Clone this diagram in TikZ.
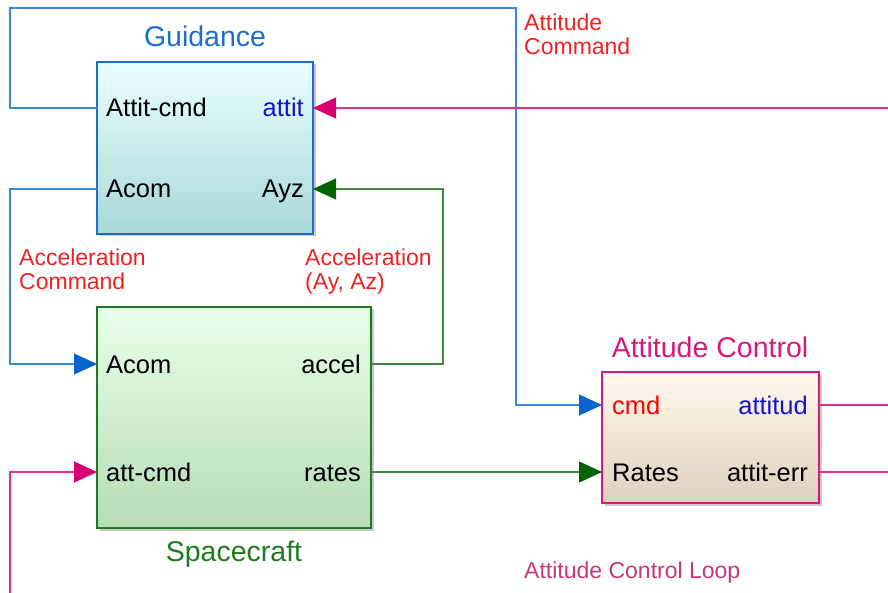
\documentclass[tikz,border=0pt]{standalone}
\usepackage{fontspec}
\setmainfont{Liberation Sans}
\usetikzlibrary{arrows.meta,shadows}

\definecolor{guidblue}{HTML}{1C6ECC}
\definecolor{wireblue}{HTML}{3A86DA}
\definecolor{tipblue}{HTML}{0A64D0}
\definecolor{scgreen}{HTML}{1E7A1E}
\definecolor{wiregreen}{HTML}{3A8A3A}
\definecolor{tipgreen}{HTML}{006400}
\definecolor{acmag}{HTML}{D6197A}
\definecolor{wiremag}{HTML}{E0308A}
\definecolor{tipmag}{HTML}{D6006E}
\definecolor{notered}{HTML}{EE2222}
\definecolor{portblue}{HTML}{1414C8}
\definecolor{looptext}{HTML}{C8357A}

\begin{document}
\begin{tikzpicture}[x=1pt,y=-1pt,
  block/.style={rectangle, line width=1.8pt, inner sep=0pt,
    drop shadow={shadow xshift=2.5pt, shadow yshift=-2.5pt, opacity=0.3, fill=black!70}},
  guidblock/.style={block, draw=guidblue, top color=cyan!8, bottom color={rgb,255:red,168;green,216;blue,216}},
  scblock/.style={block, draw=scgreen, top color={rgb,255:red,232;green,255;blue,232}, bottom color={rgb,255:red,182;green,220;blue,182}},
  acblock/.style={block, draw=acmag, top color={rgb,255:red,255;green,249;blue,236}, bottom color={rgb,255:red,222;green,208;blue,190}},
  portfont/.style={font=\fontsize{25.5}{29}\selectfont},
  portL/.style={portfont, anchor=base west, inner sep=0pt},
  portR/.style={portfont, anchor=base east, inner sep=0pt},
  title/.style={font=\fontsize{28.5}{32}\selectfont, anchor=base, inner sep=0pt},
  note/.style={font=\fontsize{23}{24}\selectfont, anchor=north west, inner sep=0pt, align=left, text=notered},
  wire/.style={line width=1.1pt},
  tiphead/.style={-{Triangle[length=23pt,width=21pt,color=#1]}},
  bluewire/.style={wire, draw=wireblue, tiphead=tipblue},
  greenwire/.style={wire, draw=wiregreen, tiphead=tipgreen},
  magwire/.style={wire, draw=wiremag, tiphead=tipmag},
]
\useasboundingbox (0,0) rectangle (888,593);

% ---- blocks ----
\node[guidblock, minimum width=216pt, minimum height=172pt] (guid) at (205,148) {};
\node[scblock, minimum width=274pt, minimum height=221pt] (sc) at (234,417.5) {};
\node[acblock, minimum width=217pt, minimum height=131pt] (ac) at (710.5,437.5) {};

% ---- block titles ----
\node[title, text=guidblue] (guid-title) at (205,47) {Guidance};
\node[title, text=scgreen] (sc-title) at (234,561) {Spacecraft};
\node[title, text=acmag] (ac-title) at (710,357) {Attitude Control};

% ---- port labels ----
\node[portL] (l-g-attcmd) at (106,117) {Attit-cmd};
\node[portR, text=portblue] (l-g-attit) at (304,117) {attit};
\node[portL] (l-g-acom) at (106,198) {Acom};
\node[portR] (l-g-ayz) at (304,198) {Ayz};

\node[portL] (l-s-acom) at (106,373) {Acom};
\node[portR] (l-s-accel) at (361,373) {accel};
\node[portL] (l-s-attcmd) at (106,481) {att-cmd};
\node[portR] (l-s-rates) at (361,481) {rates};

\node[portL, text=red] (l-a-cmd) at (612,414) {cmd};
\node[portR, text=portblue] (l-a-attitud) at (808,414) {attitud};
\node[portL] (l-a-rates) at (612,481) {Rates};
\node[portR] (l-a-atterr) at (808,481) {attit-err};

% ---- port coordinates ----
\coordinate (g-attcmd) at (97,108);
\coordinate (g-attit) at (313,108);
\coordinate (g-acom) at (97,189);
\coordinate (g-ayz) at (313,189);
\coordinate (s-acom) at (97,364);
\coordinate (s-accel) at (371,364);
\coordinate (s-attcmd) at (97,472);
\coordinate (s-rates) at (371,472);
\coordinate (a-cmd) at (602,405);
\coordinate (a-rates) at (602,472);
\coordinate (a-attitud) at (819,405);
\coordinate (a-atterr) at (819,472);

% ---- routing points ----
\coordinate (top-left) at (10,8);
\coordinate (top-right) at (516,8);
\coordinate (acom-bend) at (10,364);
\coordinate (accel-bend) at (443,189);
\coordinate (attit-in) at (888,108);
\coordinate (attcmd-in) at (10,593);
\coordinate (attitud-out) at (888,405);
\coordinate (atterr-out) at (888,472);

% ---- connectors ----
\draw[bluewire] (g-attcmd) -| (top-left) -| (top-right) |- (a-cmd);
\draw[bluewire] (g-acom) -| (acom-bend) -- (s-acom);
\draw[greenwire] (s-accel) -| (accel-bend) -- (g-ayz);
\draw[greenwire] (s-rates) -- (a-rates);
\draw[magwire] (attit-in) -- (g-attit);
\draw[magwire] (attcmd-in) |- (s-attcmd);
\draw[wire, draw=wiremag] (a-attitud) -- (attitud-out);
\draw[wire, draw=wiremag] (a-atterr) -- (atterr-out);

% ---- signal annotations ----
\node[note] (n-attcmd) at (524,14) {Attitude\\Command};
\node[note] (n-acccmd) at (19,249) {Acceleration\\Command};
\node[note] (n-accel) at (305,249) {Acceleration\\(Ay, Az)};
\node[font=\fontsize{23}{24}\selectfont, anchor=base west, inner sep=0pt, text=looptext] (n-loop) at (524,578) {Attitude Control Loop};
\end{tikzpicture}
\end{document}
